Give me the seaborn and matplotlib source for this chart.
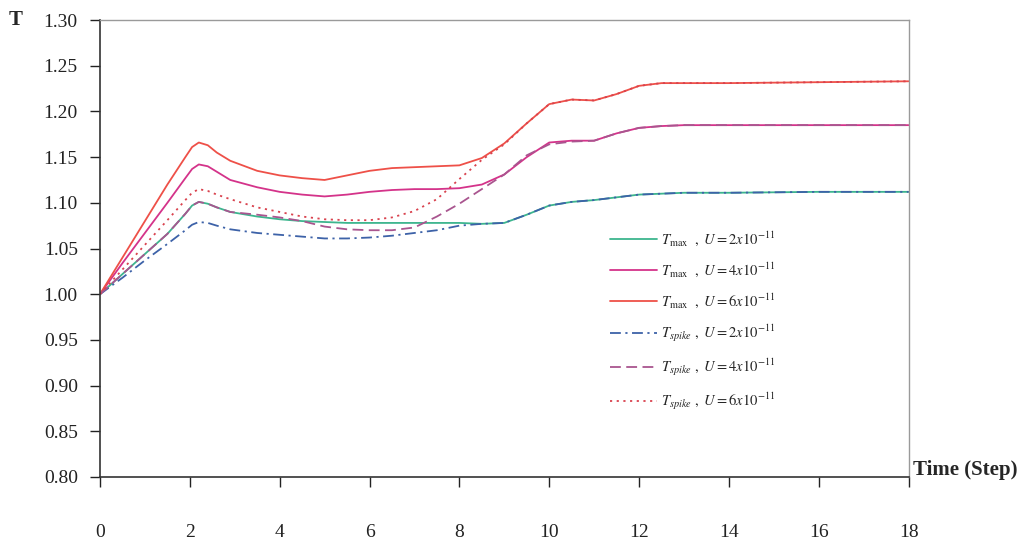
import numpy as np
import pandas as pd
import seaborn as sns
import matplotlib.pyplot as plt

# time steps and temperatures
time = [0, 0.5, 1.0, 1.5, 1.9, 2.05, 2.2, 2.4, 2.6, 2.9, 3.5, 4.0, 4.5, 5.0, 5.5, 6.0,
        6.5, 7.0, 7.5, 8.0, 8.5, 9.0, 9.5, 10.0, 10.5, 11.0, 11.5, 12.0, 12.5, 13.0,
        14.0, 16.0, 18.0]

tmax_2 = [1.000, 1.022, 1.044, 1.066, 1.088, 1.097, 1.101, 1.099, 1.095, 1.090, 1.085,
          1.082, 1.080, 1.079, 1.078, 1.078, 1.078, 1.078, 1.078, 1.078, 1.077, 1.078,
          1.087, 1.097, 1.101, 1.103, 1.106, 1.109, 1.110, 1.111, 1.111, 1.112, 1.112]
tmax_4 = [1.000, 1.034, 1.067, 1.100, 1.127, 1.137, 1.142, 1.140, 1.134, 1.125, 1.117,
          1.112, 1.109, 1.107, 1.109, 1.112, 1.114, 1.115, 1.115, 1.116, 1.120, 1.131,
          1.150, 1.166, 1.168, 1.168, 1.176, 1.182, 1.184, 1.185, 1.185, 1.185, 1.185]
tmax_6 = [1.000, 1.040, 1.080, 1.120, 1.150, 1.161, 1.166, 1.163, 1.155, 1.146, 1.135,
          1.130, 1.127, 1.125, 1.130, 1.135, 1.138, 1.139, 1.140, 1.141, 1.149, 1.165,
          1.187, 1.208, 1.213, 1.212, 1.219, 1.228, 1.231, 1.231, 1.231, 1.232, 1.233]
tspike_2 = [1.000, 1.018, 1.037, 1.055, 1.070, 1.076, 1.079, 1.078, 1.075, 1.071, 1.067,
            1.065, 1.063, 1.061, 1.061, 1.062, 1.064, 1.067, 1.070, 1.075, 1.077, 1.078,
            1.087, 1.097, 1.101, 1.103, 1.106, 1.109, 1.110, 1.111, 1.111, 1.112, 1.112]
tspike_4 = [1.000, 1.022, 1.044, 1.066, 1.088, 1.097, 1.101, 1.099, 1.095, 1.090, 1.087,
            1.084, 1.080, 1.074, 1.071, 1.070, 1.070, 1.073, 1.085, 1.099, 1.115, 1.131,
            1.152, 1.164, 1.167, 1.168, 1.176, 1.182, 1.184, 1.185, 1.185, 1.185, 1.185]
tspike_6 = [1.000, 1.027, 1.054, 1.081, 1.103, 1.111, 1.115, 1.113, 1.109, 1.104, 1.095,
            1.090, 1.085, 1.082, 1.081, 1.081, 1.084, 1.091, 1.104, 1.126, 1.147, 1.164,
            1.187, 1.208, 1.213, 1.212, 1.219, 1.228, 1.231, 1.231, 1.231, 1.232, 1.233]

labels = [r'$T_{\mathrm{max}}\ \ ,\ U = 2x10^{-11}$',
          r'$T_{\mathrm{max}}\ \ ,\ U = 4x10^{-11}$',
          r'$T_{\mathrm{max}}\ \ ,\ U = 6x10^{-11}$',
          r'$T_{spike}\ ,\ U = 2x10^{-11}$',
          r'$T_{spike}\ ,\ U = 4x10^{-11}$',
          r'$T_{spike}\ ,\ U = 6x10^{-11}$']

sns.set_style("ticks")
plt.rcParams['font.family'] = ['Liberation Serif', 'DejaVu Serif']
plt.rcParams['mathtext.fontset'] = 'stix'

fig = plt.figure(figsize=(10.34, 5.42), dpi=100)
ax = fig.add_axes([0.0967, 0.12, 0.782, 0.843])

series = [tmax_2, tmax_4, tmax_6, tspike_2, tspike_4, tspike_6]
colors = ['#3db58e', '#d4338a', '#ee5048', '#3d62a8', '#a9558f', '#d9424e']
styles = ['-', '-', '-', (0, (6, 2.5, 1.2, 2.5)), (0, (6, 3)), (0, (1.2, 2.5))]

for vals, col, ls, lab in zip(series, colors, styles, labels):
    sns.lineplot(x=time, y=vals, color=col, linestyle=ls, linewidth=1.3,
                 label=lab, ax=ax)

ax.set_xlim(0, 18)
ax.set_ylim(0.80, 1.30)
ax.set_xticks(np.arange(0, 19, 2))
ax.set_yticks(np.arange(0.80, 1.301, 0.05))
ax.set_yticklabels(['%.2f' % v for v in np.arange(0.80, 1.301, 0.05)])
ax.tick_params(axis='both', direction='out', length=7, width=1, labelsize=14,
               colors='#222222')
ax.tick_params(axis='x', pad=27)
ax.tick_params(axis='y', pad=9)
ax.set_xlabel('')
ax.set_ylabel('')
for s in ['top', 'right']:
    ax.spines[s].set_color('#9a9a9a')
    ax.spines[s].set_linewidth(1.0)
for s in ['left', 'bottom']:
    ax.spines[s].set_color('#333333')
    ax.spines[s].set_linewidth(1.2)

fig.text(0.008, 0.963, 'T', fontsize=15, fontweight='bold', va='center', ha='left')
ax.text(1.005, 0.015, 'Time (Step)', transform=ax.transAxes, fontsize=15,
        fontweight='bold', va='center', ha='left')

leg = ax.legend(loc='upper left', bbox_to_anchor=(0.615, 0.57), frameon=False,
                fontsize=10.5, handlelength=3.2, handletextpad=0.3, labelspacing=0.86)

fig.savefig('out.png', dpi=100)
